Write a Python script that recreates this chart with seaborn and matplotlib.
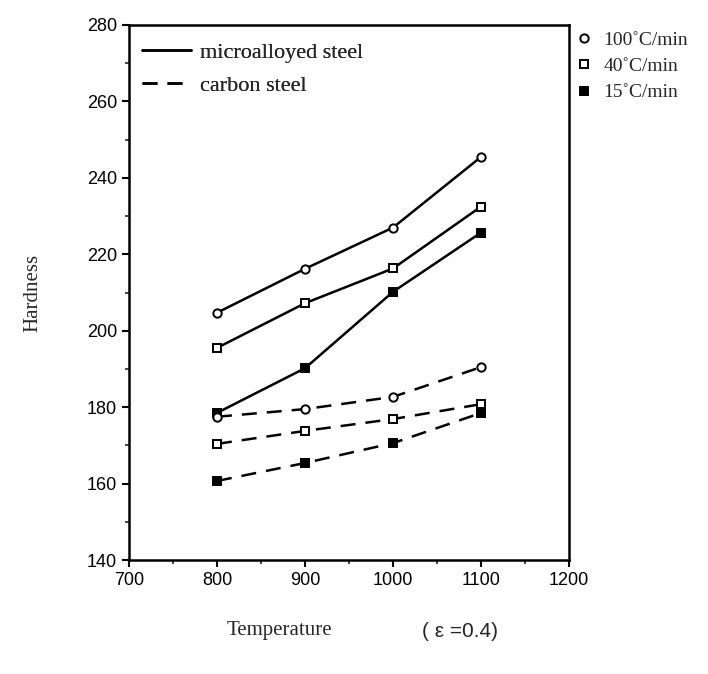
import matplotlib
matplotlib.use("Agg")
import matplotlib.pyplot as plt
from matplotlib.lines import Line2D
from matplotlib.ticker import MultipleLocator
import seaborn as sns
import pandas as pd

temperature = [800, 900, 1000, 1100]
rates = ["100˚C/min", "40˚C/min", "15˚C/min"]
micro_100 = [204.7, 216.2, 227.0, 245.5]
micro_40 = [195.5, 207.2, 216.3, 232.5]
micro_15 = [178.5, 190.2, 210.2, 225.7]
carbon_100 = [177.5, 179.5, 182.7, 190.5]
carbon_40 = [170.4, 173.8, 176.9, 180.8]
carbon_15 = [160.7, 165.4, 170.6, 178.5]
steels = ["microalloyed steel", "carbon steel"]

rows = []
for steel, series in [(steels[0], [micro_100, micro_40, micro_15]),
                      (steels[1], [carbon_100, carbon_40, carbon_15])]:
    for rate, vals in zip(rates, series):
        for t, v in zip(temperature, vals):
            rows.append({"Temperature": t, "Hardness": v, "steel": steel, "rate": rate})
df = pd.DataFrame(rows)

sns.set_style("ticks")
fig = plt.figure(figsize=(7.08, 6.74), dpi=100)
ax = fig.add_axes([0.182, 0.169, 0.622, 0.794])

marker_style = {
    rates[0]: dict(marker="o", markerfacecolor="white", markersize=6),
    rates[1]: dict(marker="s", markerfacecolor="white", markersize=6),
    rates[2]: dict(marker="s", markerfacecolor="black", markersize=6),
}
line_style = {steels[0]: "-", steels[1]: (0, (6, 4))}

for steel in steels:
    for rate in rates:
        sub = df[(df.steel == steel) & (df.rate == rate)]
        sns.lineplot(data=sub, x="Temperature", y="Hardness", ax=ax, color="black",
                     linewidth=1.8, linestyle=line_style[steel],
                     markeredgecolor="black", markeredgewidth=1.4,
                     **marker_style[rate])

ax.set_xlim(700, 1200)
ax.set_ylim(140, 280)
ax.xaxis.set_major_locator(MultipleLocator(100))
ax.xaxis.set_minor_locator(MultipleLocator(50))
ax.yaxis.set_major_locator(MultipleLocator(20))
ax.yaxis.set_minor_locator(MultipleLocator(10))
ax.tick_params(axis="both", which="major", direction="out", length=5, width=1.5,
               labelsize=13, colors="black")
ax.tick_params(axis="both", which="minor", direction="out", length=3, width=1.2)
for lab in ax.get_xticklabels() + ax.get_yticklabels():
    lab.set_family("Liberation Sans")
for s in ax.spines.values():
    s.set_linewidth(1.8)
    s.set_color("black")
ax.set_xlabel("")
ax.set_ylabel("Hardness", family="Liberation Serif", fontsize=15, labelpad=32)

h1 = [Line2D([], [], color="black", lw=1.8, linestyle=line_style[s]) for s in steels]
leg1 = ax.legend(h1, steels, loc="upper left", bbox_to_anchor=(-0.015, 1.005),
                 frameon=False, handlelength=2.2, handletextpad=0.4,
                 prop={"family": "Liberation Serif", "size": 16}, labelspacing=0.55)
ax.add_artist(leg1)

h2 = [Line2D([], [], color="black", lw=0, markeredgecolor="black",
             markeredgewidth=1.4, **marker_style[r]) for r in rates]
fig.legend(h2, rates, loc="upper left", bbox_to_anchor=(0.786, 0.98),
           frameon=False, handlelength=1.0, handletextpad=0.5,
           prop={"family": "Liberation Serif", "size": 14}, labelspacing=0.45)

fig.text(0.395, 0.065, "Temperature", family="Liberation Serif", fontsize=15,
         ha="center", va="center")
fig.text(0.65, 0.063, "( ε =0.4)", family="Liberation Sans", fontsize=15,
         ha="center", va="center")

fig.savefig("out.png", dpi=100)
